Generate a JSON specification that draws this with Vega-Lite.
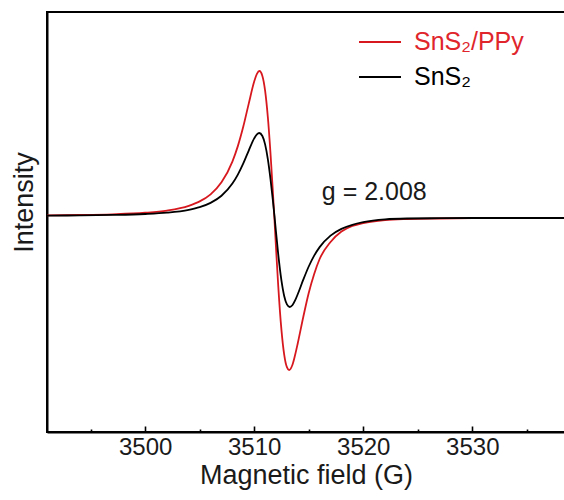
{
  "$schema": "https://vega.github.io/schema/vega-lite/v6.json",
  "autosize": "none",
  "width": 518,
  "height": 420,
  "padding": {"left": 47, "top": 12, "right": 0, "bottom": 68},
  "background": "white",
  "config": {
    "view": {"stroke": "#000000", "strokeWidth": 2},
    "font": "Liberation Sans"
  },
  "layer": [
    {
      "data": {
        "values": [
          {"sample": "SnS₂/PPy", "field": 3491, "intensity": 0.0063},
          {"sample": "SnS₂/PPy", "field": 3494, "intensity": 0.0099},
          {"sample": "SnS₂/PPy", "field": 3497, "intensity": 0.017},
          {"sample": "SnS₂/PPy", "field": 3500, "intensity": 0.0325},
          {"sample": "SnS₂/PPy", "field": 3502, "intensity": 0.0548},
          {"sample": "SnS₂/PPy", "field": 3504, "intensity": 0.1019},
          {"sample": "SnS₂/PPy", "field": 3505, "intensity": 0.1458},
          {"sample": "SnS₂/PPy", "field": 3506, "intensity": 0.2168},
          {"sample": "SnS₂/PPy", "field": 3507, "intensity": 0.3365},
          {"sample": "SnS₂/PPy", "field": 3508, "intensity": 0.5442},
          {"sample": "SnS₂/PPy", "field": 3508.5, "intensity": 0.6986},
          {"sample": "SnS₂/PPy", "field": 3509, "intensity": 0.8943},
          {"sample": "SnS₂/PPy", "field": 3509.5, "intensity": 1.124},
          {"sample": "SnS₂/PPy", "field": 3510, "intensity": 1.345},
          {"sample": "SnS₂/PPy", "field": 3510.25, "intensity": 1.422},
          {"sample": "SnS₂/PPy", "field": 3510.48, "intensity": 1.45},
          {"sample": "SnS₂/PPy", "field": 3510.75, "intensity": 1.401},
          {"sample": "SnS₂/PPy", "field": 3511, "intensity": 1.253},
          {"sample": "SnS₂/PPy", "field": 3511.25, "intensity": 0.99},
          {"sample": "SnS₂/PPy", "field": 3511.5, "intensity": 0.618},
          {"sample": "SnS₂/PPy", "field": 3511.7, "intensity": 0.264},
          {"sample": "SnS₂/PPy", "field": 3511.84, "intensity": 0},
          {"sample": "SnS₂/PPy", "field": 3512, "intensity": -0.318},
          {"sample": "SnS₂/PPy", "field": 3512.2, "intensity": -0.692},
          {"sample": "SnS₂/PPy", "field": 3512.5, "intensity": -1.142},
          {"sample": "SnS₂/PPy", "field": 3512.75, "intensity": -1.386},
          {"sample": "SnS₂/PPy", "field": 3513, "intensity": -1.512},
          {"sample": "SnS₂/PPy", "field": 3513.2, "intensity": -1.54},
          {"sample": "SnS₂/PPy", "field": 3513.5, "intensity": -1.49},
          {"sample": "SnS₂/PPy", "field": 3513.75, "intensity": -1.39},
          {"sample": "SnS₂/PPy", "field": 3514, "intensity": -1.27},
          {"sample": "SnS₂/PPy", "field": 3514.5, "intensity": -1.01},
          {"sample": "SnS₂/PPy", "field": 3515, "intensity": -0.77},
          {"sample": "SnS₂/PPy", "field": 3515.5, "intensity": -0.58},
          {"sample": "SnS₂/PPy", "field": 3516, "intensity": -0.43},
          {"sample": "SnS₂/PPy", "field": 3517, "intensity": -0.26},
          {"sample": "SnS₂/PPy", "field": 3518, "intensity": -0.155},
          {"sample": "SnS₂/PPy", "field": 3519, "intensity": -0.1},
          {"sample": "SnS₂/PPy", "field": 3520, "intensity": -0.07},
          {"sample": "SnS₂/PPy", "field": 3522, "intensity": -0.04},
          {"sample": "SnS₂/PPy", "field": 3524, "intensity": -0.03},
          {"sample": "SnS₂/PPy", "field": 3527, "intensity": -0.025},
          {"sample": "SnS₂/PPy", "field": 3530, "intensity": -0.022},
          {"sample": "SnS₂/PPy", "field": 3534, "intensity": -0.02},
          {"sample": "SnS₂/PPy", "field": 3538.5, "intensity": -0.02},
          {"sample": "SnS₂", "field": 3491, "intensity": 0.0039},
          {"sample": "SnS₂", "field": 3494, "intensity": 0.0061},
          {"sample": "SnS₂", "field": 3497, "intensity": 0.0105},
          {"sample": "SnS₂", "field": 3500, "intensity": 0.02},
          {"sample": "SnS₂", "field": 3502, "intensity": 0.0336},
          {"sample": "SnS₂", "field": 3504, "intensity": 0.0622},
          {"sample": "SnS₂", "field": 3505, "intensity": 0.0887},
          {"sample": "SnS₂", "field": 3506, "intensity": 0.1313},
          {"sample": "SnS₂", "field": 3507, "intensity": 0.2025},
          {"sample": "SnS₂", "field": 3508, "intensity": 0.3245},
          {"sample": "SnS₂", "field": 3508.5, "intensity": 0.4139},
          {"sample": "SnS₂", "field": 3509, "intensity": 0.5257},
          {"sample": "SnS₂", "field": 3509.5, "intensity": 0.6546},
          {"sample": "SnS₂", "field": 3510, "intensity": 0.776},
          {"sample": "SnS₂", "field": 3510.25, "intensity": 0.817},
          {"sample": "SnS₂", "field": 3510.46, "intensity": 0.83},
          {"sample": "SnS₂", "field": 3510.75, "intensity": 0.8},
          {"sample": "SnS₂", "field": 3511, "intensity": 0.716},
          {"sample": "SnS₂", "field": 3511.25, "intensity": 0.569},
          {"sample": "SnS₂", "field": 3511.5, "intensity": 0.364},
          {"sample": "SnS₂", "field": 3511.7, "intensity": 0.168},
          {"sample": "SnS₂", "field": 3511.86, "intensity": 0},
          {"sample": "SnS₂", "field": 3512, "intensity": -0.162},
          {"sample": "SnS₂", "field": 3512.2, "intensity": -0.379},
          {"sample": "SnS₂", "field": 3512.5, "intensity": -0.647},
          {"sample": "SnS₂", "field": 3512.75, "intensity": -0.8},
          {"sample": "SnS₂", "field": 3513, "intensity": -0.884},
          {"sample": "SnS₂", "field": 3513.26, "intensity": -0.91},
          {"sample": "SnS₂", "field": 3513.5, "intensity": -0.892},
          {"sample": "SnS₂", "field": 3513.75, "intensity": -0.844},
          {"sample": "SnS₂", "field": 3514, "intensity": -0.78},
          {"sample": "SnS₂", "field": 3514.5, "intensity": -0.637},
          {"sample": "SnS₂", "field": 3515, "intensity": -0.505},
          {"sample": "SnS₂", "field": 3515.5, "intensity": -0.396},
          {"sample": "SnS₂", "field": 3516, "intensity": -0.311},
          {"sample": "SnS₂", "field": 3517, "intensity": -0.196},
          {"sample": "SnS₂", "field": 3518, "intensity": -0.129},
          {"sample": "SnS₂", "field": 3519, "intensity": -0.088},
          {"sample": "SnS₂", "field": 3520, "intensity": -0.062},
          {"sample": "SnS₂", "field": 3522, "intensity": -0.034},
          {"sample": "SnS₂", "field": 3524, "intensity": -0.025},
          {"sample": "SnS₂", "field": 3527, "intensity": -0.022},
          {"sample": "SnS₂", "field": 3530, "intensity": -0.02},
          {"sample": "SnS₂", "field": 3534, "intensity": -0.02},
          {"sample": "SnS₂", "field": 3538.5, "intensity": -0.02}
        ]
      },
      "mark": {"type": "line", "interpolate": "monotone", "strokeWidth": 1.8, "clip": true},
      "encoding": {
        "x": {
          "field": "field",
          "type": "quantitative",
          "scale": {"domain": [3491, 3538.5], "nice": false, "zero": false},
          "axis": {
            "title": "Magnetic field (G)",
            "values": [3495, 3500, 3505, 3510, 3515, 3520, 3525, 3530, 3535],
            "labelExpr": "datum.value % 10 === 0 ? format(datum.value, 'd') : ''",
            "grid": false,
            "domainColor": "#000000",
            "domainWidth": 2,
            "tickColor": "#000000",
            "tickWidth": 1.6,
            "tickSize": {"condition": {"test": "datum.value % 10 !== 0", "value": -3}, "value": -6},
            "labelFont": "Liberation Sans",
            "labelFontSize": 24,
            "labelColor": "#1a1a1a",
            "labelPadding": 9,
            "titleFont": "Liberation Sans",
            "titleFontSize": 27,
            "titleFontWeight": "normal",
            "titleColor": "#1a1a1a",
            "titlePadding": 3
          }
        },
        "y": {
          "field": "intensity",
          "type": "quantitative",
          "scale": {"domain": [-2.16, 2.04], "nice": false, "zero": false},
          "axis": {
            "title": "Intensity",
            "ticks": false,
            "labels": false,
            "grid": false,
            "domainColor": "#000000",
            "domainWidth": 2,
            "titleFont": "Liberation Sans",
            "titleFontSize": 27,
            "titleFontWeight": "normal",
            "titleColor": "#1a1a1a",
            "titlePadding": 9,
            "titleY": 190
          }
        },
        "color": {
          "field": "sample",
          "type": "nominal",
          "scale": {"domain": ["SnS₂/PPy", "SnS₂"], "range": ["#d7191f", "#000000"]},
          "legend": {
            "title": null,
            "orient": "none",
            "legendX": 311,
            "legendY": 8,
            "padding": 0,
            "symbolType": "stroke",
            "symbolSize": 1764,
            "symbolStrokeWidth": 1.8,
            "labelFont": "Liberation Sans",
            "labelFontSize": 25,
            "labelOffset": 12,
            "rowPadding": -6,
            "encode": {
              "labels": {
                "update": {
                  "fill": {"signal": "datum.value === 'SnS₂' ? '#000000' : '#e0262c'"}
                }
              }
            }
          }
        }
      }
    },
    {
      "data": {"values": [{"note": "g = 2.008", "field": 3516.2, "intensity": 0.165}]},
      "mark": {
        "type": "text",
        "align": "left",
        "baseline": "alphabetic",
        "font": "Liberation Sans",
        "fontSize": 25,
        "color": "#1a1a1a"
      },
      "encoding": {
        "x": {"field": "field", "type": "quantitative"},
        "y": {"field": "intensity", "type": "quantitative"},
        "text": {"field": "note"}
      }
    }
  ]
}
